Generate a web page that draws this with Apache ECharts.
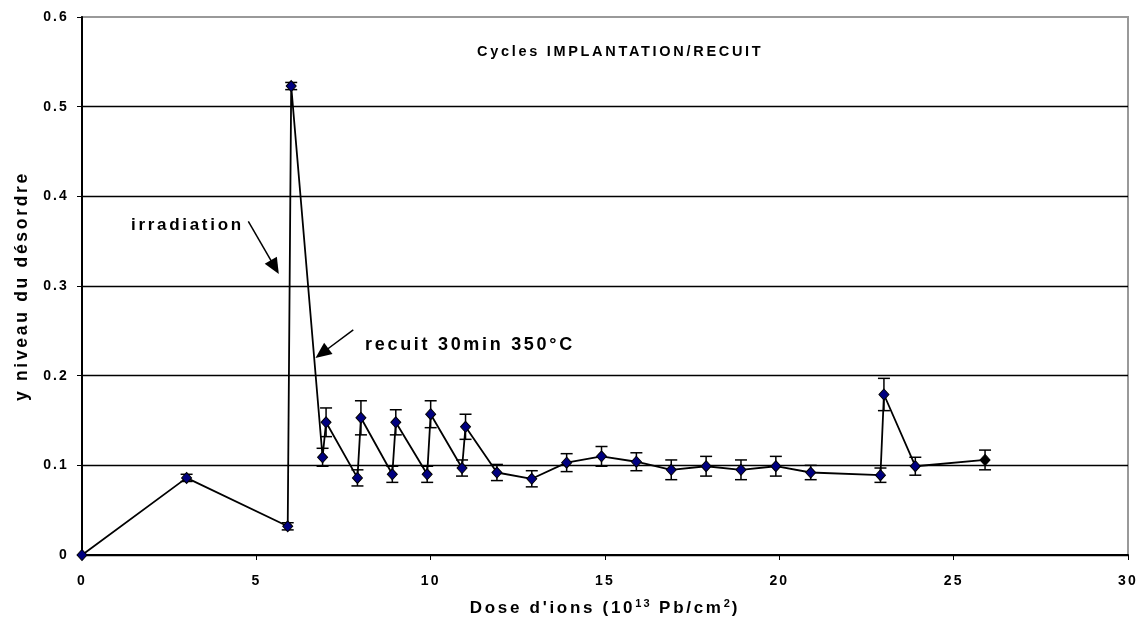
<!DOCTYPE html>
<html>
<head>
<meta charset="utf-8">
<script src="https://cdn.jsdelivr.net/npm/echarts@6/dist/echarts.min.js"></script>
<style>
  html, body { margin: 0; padding: 0; background: #fff; }
  #chart { width: 1142px; height: 634px; }
</style>
</head>
<body>
<div id="chart"></div>
<script>
// Dose d'ions (1e13 Pb/cm2) for each measurement
const doses = [0, 3, 5.9, 6.0, 6.9, 7.0, 7.9, 8.0, 8.9, 9.0, 9.9, 10.0, 10.9, 11.0,
  11.9, 12.9, 13.9, 14.9, 15.9, 16.9, 17.9, 18.9, 19.9, 20.9, 22.9, 23.0, 23.9, 25.9];
// Disorder level y
const disorder = [0, 0.086, 0.032, 0.523, 0.109, 0.148, 0.086, 0.153, 0.090, 0.148, 0.090,
  0.157, 0.097, 0.143, 0.092, 0.085, 0.103, 0.110, 0.104, 0.095, 0.099, 0.095, 0.099,
  0.092, 0.089, 0.179, 0.099, 0.106];
// Uncertainty (half-height of error bar)
const errors = [0, 0.004, 0.004, 0.004, 0.010, 0.016, 0.009, 0.019, 0.009, 0.014, 0.009,
  0.015, 0.009, 0.014, 0.009, 0.009, 0.010, 0.011, 0.010, 0.011, 0.011, 0.011, 0.011,
  0.008, 0.008, 0.018, 0.010, 0.011];

const xTicks = [0, 5, 10, 15, 20, 25, 30];
const yTicks = [0, 0.1, 0.2, 0.3, 0.4, 0.5, 0.6];

const FONT = 'Liberation Sans, Arial, sans-serif';

// Widely tracked lettering, applied both when drawing and when measuring text
(function () {
  const proto = CanvasRenderingContext2D.prototype;
  const fill = proto.fillText, measure = proto.measureText;
  const tracking = ctx => {
    const m = /(\d+(?:\.\d+)?)px/.exec(ctx.font);
    const size = m ? parseFloat(m[1]) : 12;
    return (size <= 14.2 ? 2.1 : 2.7) + 'px';
  };
  proto.fillText = function () { this.letterSpacing = tracking(this); return fill.apply(this, arguments); };
  proto.measureText = function () { this.letterSpacing = tracking(this); return measure.apply(this, arguments); };
})();

const lastIndex = doses.length - 1;
const points = doses.map((d, i) => i === lastIndex
  ? { value: [d, disorder[i]], itemStyle: { color: '#000' } }
  : [d, disorder[i]]);
const bars = doses.map((d, i) => [d, disorder[i] - errors[i], disorder[i] + errors[i]])
  .filter((b, i) => errors[i] > 0);

const chart = echarts.init(document.getElementById('chart'), null, { renderer: 'canvas' });

chart.setOption({
  animation: false,
  backgroundColor: '#fff',
  textStyle: { fontFamily: FONT },
  grid: {
    left: 82, right: 14, top: 17, bottom: 79,
    show: true, borderColor: '#999', borderWidth: 2
  },
  xAxis: {
    type: 'value',
    min: xTicks[0], max: xTicks[xTicks.length - 1], interval: 5,
    name: "Dose d'ions (10{sup|13} Pb/cm{sup|2})",
    nameLocation: 'middle', nameGap: 42,
    nameTextStyle: {
      fontFamily: FONT, fontWeight: 'bold', fontSize: 17, color: '#000',
      rich: {
        sup: { fontFamily: FONT, fontWeight: 'bold', fontSize: 11, verticalAlign: 'top', padding: [0, 0, 10, 0], color: '#000' }
      }
    },
    axisLine: { show: true, onZero: false, lineStyle: { color: '#000', width: 2 } },
    axisTick: { show: true, inside: false, length: 5, lineStyle: { color: '#000', width: 1 } },
    axisLabel: { fontFamily: FONT, fontWeight: 'bold', fontSize: 14, color: '#000', margin: 18 },
    splitLine: { show: false }
  },
  yAxis: {
    type: 'value',
    min: yTicks[0], max: yTicks[yTicks.length - 1], interval: 0.1,
    name: 'y niveau du désordre',
    nameLocation: 'middle', nameGap: 39, nameRotate: 90,
    nameTextStyle: { fontFamily: FONT, fontWeight: 'bold', fontSize: 17.5, color: '#000' },
    axisLine: { show: true, onZero: false, lineStyle: { color: '#000', width: 2 } },
    axisTick: { show: true, inside: false, length: 5, lineStyle: { color: '#000', width: 1 } },
    axisLabel: {
      fontFamily: FONT, fontWeight: 'bold', fontSize: 14, color: '#000', margin: 13,
      formatter: v => (Math.round(v * 10) / 10).toString()
    },
    splitLine: { show: true, showMaxLine: false, lineStyle: { color: '#000', width: 1.3 } }
  },
  series: [
    {
      name: 'errors',
      type: 'custom',
      z: 3,
      data: bars,
      renderItem: function (params, api) {
        const x = api.value(0);
        const top = api.coord([x, api.value(2)]);
        const bot = api.coord([x, api.value(1)]);
        const hw = 6;
        const style = { stroke: '#000', lineWidth: 1.5, fill: null };
        return {
          type: 'group',
          children: [
            { type: 'line', shape: { x1: top[0], y1: top[1], x2: bot[0], y2: bot[1] }, style },
            { type: 'line', shape: { x1: top[0] - hw, y1: top[1], x2: top[0] + hw, y2: top[1] }, style },
            { type: 'line', shape: { x1: bot[0] - hw, y1: bot[1], x2: bot[0] + hw, y2: bot[1] }, style }
          ]
        };
      }
    },
    {
      name: 'désordre',
      type: 'line',
      z: 4,
      data: points,
      symbol: 'diamond',
      symbolSize: [10, 11],
      showAllSymbol: true,
      lineStyle: { color: '#000', width: 1.8 },
      itemStyle: { color: '#000080', borderColor: '#000', borderWidth: 1 },
      markLine: {
        silent: true,
        symbol: ['none', 'triangle'],
        symbolSize: [14, 16],
        label: { show: false },
        lineStyle: { color: '#000', width: 1.5, type: 'solid' },
        data: [
          [{ coord: [4.77, 0.372] }, { coord: [5.53, 0.321] }],
          [{ coord: [7.78, 0.251] }, { coord: [6.88, 0.225] }]
        ]
      }
    }
  ],
  graphic: [
    {
      type: 'text', left: 477, top: 43,
      style: { text: 'Cycles IMPLANTATION/RECUIT', font: 'bold 14.5px ' + FONT, fill: '#000' }
    },
    {
      type: 'text', left: 131, top: 215,
      style: { text: 'irradiation', font: 'bold 17px ' + FONT, fill: '#000' }
    },
    {
      type: 'text', left: 365, top: 335,
      style: { text: 'recuit 30min 350°C', font: 'bold 18px ' + FONT, fill: '#000' }
    }
  ]
});
</script>
</body>
</html>
